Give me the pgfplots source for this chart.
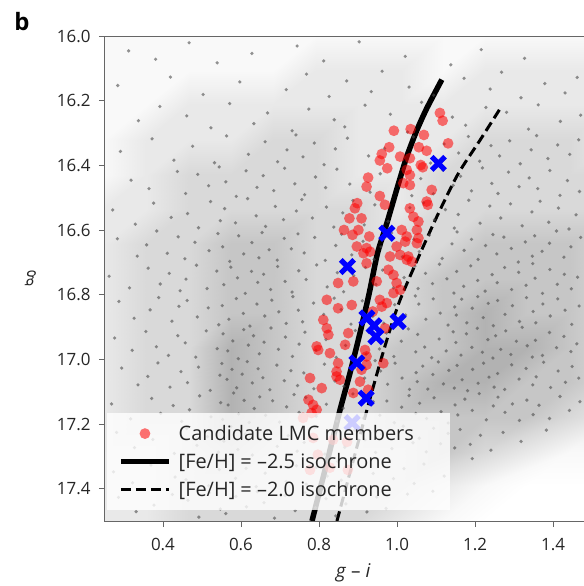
\documentclass[border=0pt]{standalone}
\usepackage{pgfplots}
\pgfplotsset{compat=1.18}
\usepackage{fontspec}
\setmainfont{Open Sans}
\setsansfont{Open Sans}

\pgfplotstableread{
x y d
0.250 16.000 1
0.358 16.000 1
0.467 16.000 1
0.575 16.000 1
0.683 16.000 1
0.792 16.000 1
0.900 16.000 1
1.008 16.000 1
1.117 16.000 1
1.225 16.000 1
1.333 16.000 1
1.442 16.000 1
1.550 16.000 1
0.250 16.107 1
0.358 16.107 1
0.467 16.107 1
0.575 16.107 1
0.683 16.107 1
0.792 16.107 2
0.900 16.107 2
1.008 16.107 2
1.117 16.107 1
1.225 16.107 2
1.333 16.107 2
1.442 16.107 2
1.550 16.107 2
0.250 16.214 1
0.358 16.214 1
0.467 16.214 2
0.575 16.214 2
0.683 16.214 2
0.792 16.214 2
0.900 16.214 2
1.008 16.214 2
1.117 16.214 2
1.225 16.214 2
1.333 16.214 2
1.442 16.214 2
1.550 16.214 2
0.250 16.321 1
0.358 16.321 2
0.467 16.321 2
0.575 16.321 2
0.683 16.321 3
0.792 16.321 3
0.900 16.321 2
1.008 16.321 2
1.117 16.321 2
1.225 16.321 3
1.333 16.321 3
1.442 16.321 3
1.550 16.321 2
0.250 16.429 1
0.358 16.429 2
0.467 16.429 3
0.575 16.429 3
0.683 16.429 3
0.792 16.429 3
0.900 16.429 2
1.008 16.429 2
1.117 16.429 3
1.225 16.429 3
1.333 16.429 3
1.442 16.429 3
1.550 16.429 3
0.250 16.536 2
0.358 16.536 2
0.467 16.536 3
0.575 16.536 3
0.683 16.536 3
0.792 16.536 3
0.900 16.536 3
1.008 16.536 2
1.117 16.536 3
1.225 16.536 3
1.333 16.536 3
1.442 16.536 3
1.550 16.536 3
0.250 16.643 2
0.358 16.643 3
0.467 16.643 3
0.575 16.643 4
0.683 16.643 4
0.792 16.643 3
0.900 16.643 3
1.008 16.643 3
1.117 16.643 3
1.225 16.643 4
1.333 16.643 4
1.442 16.643 4
1.550 16.643 3
0.250 16.750 2
0.358 16.750 3
0.467 16.750 3
0.575 16.750 4
0.683 16.750 4
0.792 16.750 3
0.900 16.750 3
1.008 16.750 3
1.117 16.750 4
1.225 16.750 4
1.333 16.750 4
1.442 16.750 4
1.550 16.750 3
0.250 16.857 2
0.358 16.857 3
0.467 16.857 3
0.575 16.857 4
0.683 16.857 4
0.792 16.857 3
0.900 16.857 3
1.008 16.857 3
1.117 16.857 4
1.225 16.857 5
1.333 16.857 4
1.442 16.857 4
1.550 16.857 3
0.250 16.964 2
0.358 16.964 3
0.467 16.964 3
0.575 16.964 5
0.683 16.964 4
0.792 16.964 3
0.900 16.964 3
1.008 16.964 4
1.117 16.964 4
1.225 16.964 5
1.333 16.964 5
1.442 16.964 4
1.550 16.964 3
0.250 17.071 2
0.358 17.071 3
0.467 17.071 3
0.575 17.071 5
0.683 17.071 4
0.792 17.071 3
0.900 17.071 3
1.008 17.071 4
1.117 17.071 5
1.225 17.071 5
1.333 17.071 4
1.442 17.071 4
1.550 17.071 3
0.250 17.179 2
0.358 17.179 3
0.467 17.179 3
0.575 17.179 5
0.683 17.179 4
0.792 17.179 3
0.900 17.179 3
1.008 17.179 4
1.117 17.179 4
1.225 17.179 4
1.333 17.179 4
1.442 17.179 3
1.550 17.179 2
0.250 17.286 2
0.358 17.286 2
0.467 17.286 3
0.575 17.286 4
0.683 17.286 3
0.792 17.286 3
0.900 17.286 3
1.008 17.286 3
1.117 17.286 4
1.225 17.286 3
1.333 17.286 2
1.442 17.286 1
1.550 17.286 1
0.250 17.393 2
0.358 17.393 2
0.467 17.393 3
0.575 17.393 3
0.683 17.393 3
0.792 17.393 3
0.900 17.393 3
1.008 17.393 3
1.117 17.393 2
1.225 17.393 1
1.333 17.393 0
1.442 17.393 0
1.550 17.393 0
0.250 17.500 2
0.358 17.500 2
0.467 17.500 3
0.575 17.500 3
0.683 17.500 3
0.792 17.500 3
0.900 17.500 3
1.008 17.500 2
1.117 17.500 1
1.225 17.500 0
1.333 17.500 0
1.442 17.500 0
1.550 17.500 0
}\densitygrid

\pgfplotstableread{
x y
0.312 16.046
0.381 16.072
0.467 16.021
0.539 16.083
0.628 16.054
0.744 16.031
0.812 16.077
0.903 16.018
1.021 16.063
1.138 16.089
1.216 16.042
1.327 16.069
0.284 16.153
0.419 16.127
0.503 16.181
0.597 16.142
0.716 16.166
0.768 16.118
0.826 16.187
0.871 16.139
0.934 16.172
0.962 16.109
1.031 16.158
1.094 16.183
1.172 16.131
1.239 16.164
1.268 16.112
1.318 16.191
1.379 16.147
1.431 16.176
1.462 16.128
0.337 16.262
0.392 16.218
0.461 16.247
0.523 16.284
0.571 16.209
0.633 16.271
0.668 16.238
0.731 16.293
0.774 16.226
0.839 16.259
0.866 16.281
0.918 16.214
0.983 16.242
1.027 16.297
1.063 16.205
1.142 16.251
1.176 16.276
1.228 16.221
1.281 16.236
1.337 16.288
1.362 16.213
1.419 16.264
1.471 16.245
0.291 16.357
0.372 16.318
0.428 16.384
0.476 16.341
0.532 16.392
0.563 16.309
0.619 16.366
0.662 16.327
0.694 16.389
0.718 16.352
0.741 16.306
0.759 16.374
0.788 16.331
0.813 16.398
0.842 16.349
0.873 16.316
0.927 16.371
0.968 16.348
1.042 16.312
1.086 16.393
1.121 16.334
1.158 16.362
1.183 16.311
1.212 16.387
1.241 16.339
1.263 16.371
1.289 16.324
1.316 16.395
1.344 16.352
1.358 16.308
1.387 16.379
1.412 16.337
1.443 16.366
1.466 16.321
0.318 16.446
0.364 16.472
0.437 16.419
0.458 16.487
0.489 16.428
0.517 16.463
0.544 16.405
0.561 16.451
0.588 16.496
0.613 16.417
0.641 16.468
0.657 16.432
0.684 16.478
0.712 16.409
0.738 16.457
0.763 16.491
0.791 16.436
0.817 16.469
0.846 16.412
0.879 16.458
0.931 16.483
0.957 16.426
1.038 16.494
1.061 16.441
1.093 16.488
1.118 16.415
1.144 16.462
1.163 16.434
1.191 16.479
1.219 16.408
1.243 16.456
1.259 16.487
1.286 16.421
1.313 16.466
1.339 16.439
1.361 16.472
1.392 16.416
1.418 16.493
1.437 16.447
1.468 16.481
0.271 16.538
0.329 16.582
0.376 16.517
0.421 16.561
0.463 16.549
0.491 16.593
0.522 16.512
0.547 16.571
0.558 16.534
0.586 16.578
0.617 16.503
0.639 16.556
0.663 16.589
0.688 16.527
0.709 16.568
0.742 16.541
0.756 16.506
0.783 16.563
0.819 16.529
0.838 16.591
0.861 16.547
0.887 16.509
0.916 16.584
0.943 16.522
0.977 16.573
1.033 16.531
1.068 16.516
1.096 16.568
1.124 16.537
1.147 16.594
1.157 16.552
1.184 16.508
1.213 16.579
1.238 16.526
1.266 16.563
1.291 16.519
1.321 16.587
1.346 16.544
1.367 16.511
1.389 16.576
1.414 16.532
1.441 16.597
1.459 16.553
0.283 16.627
0.334 16.681
0.358 16.646
0.384 16.603
0.411 16.672
0.439 16.621
0.456 16.689
0.482 16.638
0.518 16.664
0.541 16.611
0.553 16.652
0.571 16.697
0.594 16.618
0.607 16.674
0.628 16.639
0.646 16.686
0.654 16.608
0.672 16.661
0.693 16.693
0.711 16.626
0.729 16.658
0.746 16.612
0.762 16.671
0.789 16.623
0.816 16.694
0.843 16.648
0.858 16.613
0.884 16.677
0.913 16.635
0.941 16.691
0.959 16.652
0.986 16.609
1.014 16.683
1.043 16.629
1.057 16.667
1.083 16.616
1.116 16.688
1.141 16.643
1.154 16.606
1.172 16.663
1.191 16.629
1.208 16.691
1.227 16.648
1.246 16.614
1.256 16.674
1.274 16.622
1.293 16.657
1.311 16.699
1.329 16.637
1.347 16.681
1.353 16.618
1.372 16.666
1.391 16.641
1.409 16.603
1.428 16.684
1.446 16.652
1.471 16.623
0.262 16.743
0.314 16.779
0.362 16.718
0.393 16.767
0.416 16.734
0.444 16.788
0.459 16.752
0.486 16.709
0.513 16.781
0.538 16.727
0.556 16.769
0.574 16.715
0.591 16.748
0.611 16.796
0.627 16.728
0.643 16.762
0.658 16.737
0.676 16.784
0.694 16.713
0.713 16.759
0.731 16.792
0.748 16.726
0.767 16.753
0.794 16.708
0.821 16.776
0.847 16.732
0.863 16.791
0.889 16.741
0.919 16.716
0.946 16.768
0.963 16.724
0.991 16.779
1.018 16.747
1.046 16.712
1.054 16.781
1.073 16.734
1.091 16.766
1.109 16.706
1.128 16.751
1.146 16.795
1.153 16.728
1.171 16.774
1.189 16.711
1.207 16.756
1.226 16.789
1.244 16.738
1.257 16.763
1.276 16.716
1.294 16.784
1.312 16.731
1.331 16.771
1.348 16.704
1.354 16.749
1.373 16.796
1.392 16.722
1.411 16.768
1.429 16.737
1.447 16.782
1.463 16.746
0.287 16.821
0.326 16.873
0.367 16.847
0.389 16.809
0.423 16.882
0.441 16.836
0.462 16.818
0.488 16.869
0.516 16.841
0.543 16.893
0.552 16.834
0.569 16.876
0.588 16.812
0.606 16.858
0.623 16.897
0.641 16.829
0.661 16.866
0.679 16.817
0.697 16.853
0.716 16.889
0.733 16.806
0.747 16.848
0.758 16.884
0.786 16.826
0.812 16.861
0.839 16.811
0.857 16.846
0.882 16.891
0.911 16.819
0.938 16.867
0.966 16.888
0.994 16.831
1.022 16.863
1.047 16.804
1.056 16.829
1.074 16.876
1.093 16.813
1.111 16.857
1.131 16.894
1.148 16.838
1.152 16.863
1.166 16.814
1.179 16.887
1.193 16.842
1.207 16.806
1.221 16.871
1.234 16.827
1.247 16.896
1.258 16.818
1.277 16.861
1.296 16.834
1.314 16.883
1.332 16.809
1.349 16.852
1.356 16.887
1.374 16.829
1.393 16.866
1.412 16.813
1.431 16.848
1.448 16.892
1.467 16.835
0.276 16.934
0.321 16.972
0.356 16.914
0.383 16.961
0.414 16.988
0.438 16.927
0.457 16.949
0.484 16.993
0.511 16.912
0.539 16.967
0.554 16.921
0.566 16.974
0.579 16.943
0.593 16.998
0.607 16.908
0.619 16.956
0.632 16.927
0.647 16.983
0.659 16.947
0.677 16.903
0.696 16.969
0.714 16.931
0.732 16.991
0.749 16.953
0.764 16.916
0.792 16.972
0.818 16.939
0.844 16.994
0.868 16.957
0.893 16.911
0.921 16.984
0.947 16.936
0.955 16.968
0.973 16.919
0.992 16.991
1.011 16.944
1.029 16.906
1.048 16.977
1.053 16.923
1.071 16.962
1.089 16.995
1.108 16.937
1.126 16.974
1.144 16.915
1.151 16.948
1.164 16.987
1.178 16.921
1.192 16.963
1.206 16.904
1.219 16.978
1.233 16.939
1.246 16.996
1.253 16.927
1.266 16.969
1.279 16.912
1.292 16.985
1.306 16.944
1.321 16.901
1.334 16.958
1.347 16.993
1.355 16.941
1.373 16.988
1.391 16.917
1.409 16.964
1.428 16.929
1.446 16.976
1.461 16.952
0.294 17.027
0.336 17.079
0.361 17.053
0.387 17.011
0.418 17.086
0.446 17.038
0.463 17.072
0.491 17.024
0.521 17.096
0.546 17.049
0.551 17.013
0.564 17.062
0.577 17.031
0.589 17.088
0.603 17.046
0.616 17.007
0.629 17.073
0.644 17.029
0.656 17.057
0.674 17.094
0.692 17.018
0.711 17.066
0.728 17.035
0.745 17.081
0.761 17.042
0.787 17.091
0.814 17.015
0.841 17.067
0.864 17.083
0.891 17.026
0.917 17.058
0.944 17.004
0.958 17.036
0.976 17.077
0.995 17.012
1.013 17.058
1.032 17.093
1.049 17.041
1.052 17.069
1.066 17.021
1.079 17.092
1.092 17.047
1.106 17.008
1.119 17.076
1.133 17.034
1.147 17.089
1.154 17.019
1.167 17.063
1.181 17.097
1.194 17.031
1.208 17.074
1.222 17.012
1.236 17.055
1.249 17.086
1.258 17.044
1.276 17.093
1.294 17.017
1.313 17.061
1.331 17.028
1.348 17.079
1.357 17.054
1.376 17.009
1.394 17.087
1.413 17.036
1.432 17.071
1.449 17.022
1.466 17.058
0.268 17.138
0.317 17.184
0.371 17.121
0.394 17.167
0.426 17.143
0.448 17.192
0.468 17.156
0.494 17.113
0.523 17.178
0.548 17.134
0.553 17.186
0.567 17.141
0.581 17.104
0.594 17.169
0.608 17.127
0.621 17.195
0.634 17.152
0.648 17.116
0.663 17.173
0.681 17.128
0.699 17.194
0.717 17.147
0.736 17.109
0.749 17.164
0.766 17.118
0.793 17.176
0.819 17.139
0.846 17.191
0.862 17.151
0.887 17.107
0.914 17.182
0.939 17.131
0.956 17.173
0.974 17.129
0.993 17.196
1.012 17.148
1.031 17.112
1.048 17.167
1.058 17.136
1.076 17.183
1.095 17.119
1.113 17.162
1.131 17.197
1.149 17.141
1.156 17.172
1.174 17.123
1.193 17.158
1.211 17.106
1.229 17.187
1.247 17.144
1.259 17.117
1.277 17.164
1.296 17.138
1.314 17.189
1.333 17.126
1.349 17.171
1.364 17.142
1.391 17.183
1.418 17.115
1.442 17.158
1.469 17.131
0.281 17.226
0.327 17.273
0.374 17.248
0.429 17.291
0.461 17.214
0.487 17.266
0.514 17.239
0.542 17.287
0.556 17.253
0.574 17.208
0.592 17.279
0.611 17.231
0.629 17.296
0.645 17.244
0.667 17.221
0.693 17.269
0.721 17.236
0.744 17.284
0.762 17.257
0.789 17.211
0.815 17.293
0.842 17.235
0.866 17.272
0.892 17.219
0.918 17.249
0.945 17.288
0.961 17.231
0.987 17.276
1.016 17.207
1.041 17.258
1.057 17.244
1.075 17.286
1.094 17.213
1.112 17.261
1.131 17.229
1.148 17.274
1.162 17.217
1.188 17.263
1.214 17.235
1.241 17.281
1.272 17.226
1.318 17.254
1.383 17.219
0.273 17.348
0.322 17.382
0.369 17.327
0.431 17.364
0.459 17.372
0.486 17.318
0.517 17.391
0.544 17.341
0.558 17.311
0.586 17.368
0.613 17.337
0.639 17.394
0.662 17.352
0.689 17.309
0.716 17.378
0.742 17.329
0.767 17.386
0.793 17.334
0.821 17.361
0.848 17.316
0.857 17.374
0.884 17.326
0.912 17.397
0.939 17.353
0.963 17.313
0.991 17.369
1.018 17.338
1.044 17.384
1.069 17.324
1.121 17.361
1.193 17.307
0.286 17.427
0.331 17.471
0.377 17.451
0.424 17.418
0.464 17.436
0.492 17.488
0.519 17.412
0.547 17.463
0.561 17.477
0.587 17.424
0.614 17.456
0.642 17.409
0.659 17.443
0.686 17.491
0.713 17.421
0.739 17.468
0.764 17.412
0.791 17.459
0.818 17.431
0.843 17.484
0.869 17.447
0.896 17.403
0.923 17.472
0.948 17.426
0.972 17.461
1.027 17.417
1.092 17.408
}\fieldstars

\pgfplotstableread{
x y
1.110 16.238
1.117 16.262
0.992 16.293
1.035 16.288
1.069 16.306
1.131 16.332
0.980 16.344
1.056 16.344
1.076 16.355
1.008 16.373
0.961 16.365
0.956 16.385
0.975 16.409
1.033 16.378
1.061 16.399
1.066 16.406
1.025 16.414
1.033 16.430
0.926 16.438
0.922 16.466
1.016 16.455
1.033 16.461
1.089 16.476
0.956 16.495
0.969 16.522
1.076 16.512
1.079 16.522
0.898 16.517
0.892 16.533
1.033 16.533
0.878 16.564
0.909 16.564
1.042 16.559
1.055 16.574
0.864 16.600
0.886 16.615
0.901 16.600
0.929 16.620
1.012 16.600
1.025 16.620
1.051 16.600
1.055 16.625
0.897 16.651
0.922 16.656
0.999 16.651
1.021 16.636
1.008 16.677
1.029 16.682
1.051 16.641
0.914 16.672
0.931 16.667
0.982 16.682
1.025 16.692
1.038 16.698
0.922 16.703
0.978 16.723
0.991 16.739
0.849 16.764
0.888 16.759
0.948 16.759
0.999 16.764
1.008 16.785
0.991 16.795
0.820 16.816
0.849 16.842
0.884 16.832
0.956 16.816
0.974 16.826
0.961 16.837
0.938 16.852
0.811 16.878
0.820 16.904
0.824 16.924
0.875 16.919
0.969 16.904
0.794 16.960
0.798 16.971
0.867 16.955
0.828 16.981
0.918 16.971
0.922 16.991
0.922 17.017
0.909 17.032
0.965 17.012
0.849 17.012
0.845 17.038
0.845 17.053
0.854 17.063
0.777 17.058
0.807 17.089
0.905 17.069
0.926 17.094
0.773 17.125
0.785 17.141
0.794 17.156
0.781 17.166
0.888 17.104
0.759 17.181
0.785 17.243
0.836 17.249
0.872 17.255
0.777 17.342
0.828 17.335
0.874 17.342
0.797 17.295
}\members

\pgfplotstableread{
x y
1.106 16.394
0.974 16.610
0.873 16.713
0.923 16.872
0.941 16.896
0.946 16.930
1.003 16.883
0.897 17.011
0.921 17.120
0.885 17.196
}\blueX

\pgfplotsset{
  legend image code/.code={\draw[mark repeat=2,mark phase=2,#1] plot coordinates {(0bp,0bp) (24bp,0bp) (48bp,0bp)};},
}

\begin{document}
\begin{tikzpicture}
\begin{axis}[
  scale only axis, width=506.5bp, height=485bp,
  xmin=0.2513, xmax=1.55, ymin=16, ymax=17.5, y dir=reverse,
  enlargelimits=false, clip=true, axis on top=true,
  xtick={0.4,0.6,0.8,1.0,1.2,1.4},
  ytick={16.0,16.2,16.4,16.6,16.8,17.0,17.2,17.4},
  scaled ticks=false,
  /pgf/number format/fixed, /pgf/number format/fixed zerofill,
  /pgf/number format/precision=1, /pgf/number format/assume math mode=true,
  tick align=outside, tick pos=left,
  major tick length=6bp,
  every tick/.style={black!60, line width=0.9bp},
  axis line style={black!60, line width=1bp},
  tick label style={font=\fontsize{17}{20}\selectfont, text=black!85},
  yticklabel style={xshift=-5bp},
  xticklabel style={yshift=-8bp},
  xlabel={\textit{g} – \textit{i}},
  ylabel={\textit{g}},
  label style={font=\fontsize{19}{22}\selectfont, text=black!85},
  xlabel style={at={(axis description cs:0.49,-0.107)}, anchor=center},
  ylabel style={at={(axis description cs:-0.148,0.5)}, anchor=center, rotate=90},
  colormap={cmd}{rgb(0)=(1,1,1) rgb(1)=(0.975,0.975,0.975) rgb(3)=(0.85,0.85,0.85) rgb(5)=(0.70,0.70,0.70)},
  point meta min=0, point meta max=5,
  legend cell align=left,
  legend style={at={(0.004,0.022)}, anchor=south west, fill=white,
    fill opacity=0.8, text opacity=1, draw=none,
    font=\fontsize{20}{23}\selectfont, text=black!85,
    row sep=7.5bp, inner xsep=11bp, inner ysep=10bp,
    nodes={inner xsep=7bp}},
]
\addplot[surf, shader=interp, mesh/cols=13, point meta=explicit, forget plot]
  table[x=x, y=y, meta=d] {\densitygrid};
\addplot[only marks, mark=*, mark size=1.8bp,
  mark options={fill=black!70, draw=black!70, fill opacity=0.6, draw opacity=0}, forget plot]
  table[x=x, y=y] {\fieldstars};
\addplot[only marks, mark=*, mark size=5.4bp,
  mark options={fill=red, draw=red, fill opacity=0.55, draw opacity=0}]
  table[x=x, y=y] {\members};
\addlegendentry{Candidate LMC members\rule{18bp}{0pt}}
\addplot[black, line width=5.5bp, line join=round, smooth, tension=0.4]
  coordinates {(0.782,17.5) (0.818,17.33) (0.854,17.156) (0.880,17.04) (0.905,16.919) (0.928,16.80) (0.950,16.672) (0.974,16.579) (0.999,16.476) (1.025,16.373) (1.051,16.291) (1.077,16.222) (1.115,16.135)};
\addlegendentry{{[}Fe/H{]} = –2.5 isochrone}
\addplot[black, line width=3bp, dash pattern=on 10bp off 5bp, smooth, tension=0.4]
  coordinates {(0.846,17.5) (0.923,17.156) (0.964,16.98) (1.008,16.816) (1.092,16.585) (1.155,16.43) (1.213,16.322) (1.269,16.216)};
\addlegendentry{{[}Fe/H{]} = –2.0 isochrone}
\addplot[only marks, mark=x, mark size=9.5bp, mark options={blue, line width=5.2bp}, forget plot]
  table[x=x, y=y] {\blueX};
\end{axis}
\node[font=\fontsize{24}{28}\selectfont\bfseries] at ([shift={(-83bp,499bp)}]current axis.south west) {b};
\pgfresetboundingbox
\path[use as bounding box] ([shift={(-105bp,-65bp)}]current axis.south west) rectangle ([shift={(479bp,521bp)}]current axis.south west);
\end{tikzpicture}
\end{document}
